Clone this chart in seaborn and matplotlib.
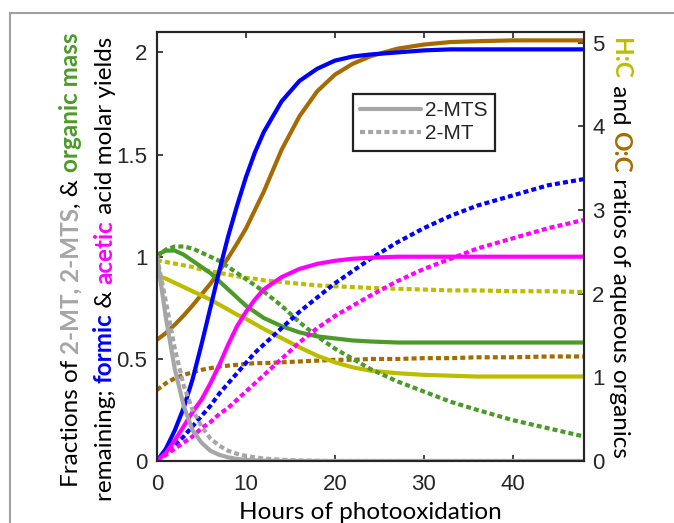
import matplotlib
matplotlib.use('Agg')
import matplotlib.pyplot as plt
import seaborn as sns
from matplotlib.lines import Line2D
from matplotlib.patches import Rectangle

# hours of photooxidation (shared time grid)
HOURS = [0, 1, 2, 3, 4, 5, 6, 7, 8, 9, 10, 11, 12, 14, 16, 18, 20, 22, 24, 27, 30, 33, 36, 40, 44, 48]

# left axis: fractions remaining / molar yields  (solid = 2-MTS, dotted = 2-MT)
MTS_FRAC = [1.0, 0.7, 0.45, 0.27, 0.15, 0.09, 0.05, 0.03, 0.018, 0.01, 0.006, 0.003, 0.002, 0.001, 0, 0, 0, 0, 0, 0, 0, 0, 0, 0, 0, 0]
MT_FRAC = [1.0, 0.78, 0.55, 0.37, 0.25, 0.17, 0.11, 0.075, 0.05, 0.035, 0.025, 0.018, 0.012, 0.006, 0.003, 0.001, 0, 0, 0, 0, 0, 0, 0, 0, 0, 0]
FORMIC_MTS = [0, 0.06, 0.15, 0.26, 0.4, 0.57, 0.75, 0.93, 1.1, 1.25, 1.39, 1.51, 1.61, 1.76, 1.86, 1.92, 1.96, 1.98, 1.99, 2.0, 2.01, 2.015, 2.015, 2.015, 2.015, 2.015]
FORMIC_MT = [0, 0.04, 0.08, 0.12, 0.17, 0.22, 0.27, 0.33, 0.38, 0.43, 0.48, 0.53, 0.57, 0.65, 0.73, 0.8, 0.87, 0.93, 0.99, 1.07, 1.14, 1.2, 1.25, 1.3, 1.35, 1.38]
ACETIC_MTS = [0, 0.04, 0.1, 0.17, 0.24, 0.3, 0.38, 0.47, 0.57, 0.66, 0.73, 0.79, 0.84, 0.9, 0.94, 0.965, 0.98, 0.99, 0.995, 1.0, 1.0, 1.0, 1.0, 1.0, 1.0, 1.0]
ACETIC_MT = [0, 0.03, 0.06, 0.09, 0.12, 0.16, 0.19, 0.23, 0.26, 0.3, 0.34, 0.38, 0.42, 0.5, 0.58, 0.65, 0.71, 0.76, 0.81, 0.88, 0.94, 0.99, 1.04, 1.09, 1.14, 1.18]
MASS_MTS = [1.01, 1.03, 1.03, 1.01, 0.98, 0.95, 0.92, 0.88, 0.84, 0.8, 0.76, 0.73, 0.7, 0.66, 0.63, 0.61, 0.6, 0.59, 0.585, 0.58, 0.58, 0.58, 0.58, 0.58, 0.58, 0.58]
MASS_MT = [1.0, 1.035, 1.05, 1.05, 1.04, 1.02, 1.0, 0.98, 0.95, 0.92, 0.89, 0.86, 0.83, 0.76, 0.68, 0.61, 0.55, 0.5, 0.45, 0.39, 0.34, 0.29, 0.25, 0.2, 0.16, 0.12]

# right axis: elemental ratios of aqueous organics
HC_MTS = [2.22, 2.18, 2.13, 2.08, 2.03, 1.98, 1.93, 1.87, 1.81, 1.75, 1.7, 1.64, 1.58, 1.47, 1.36, 1.26, 1.18, 1.12, 1.08, 1.05, 1.03, 1.02, 1.01, 1.01, 1.01, 1.01]
HC_MT = [2.4, 2.38, 2.36, 2.34, 2.32, 2.29, 2.27, 2.25, 2.23, 2.21, 2.19, 2.18, 2.16, 2.14, 2.12, 2.1, 2.09, 2.08, 2.07, 2.06, 2.05, 2.04, 2.04, 2.03, 2.03, 2.02]
OC_MTS = [1.45, 1.53, 1.63, 1.74, 1.86, 1.99, 2.12, 2.27, 2.43, 2.6, 2.78, 3.0, 3.22, 3.72, 4.12, 4.42, 4.62, 4.75, 4.84, 4.93, 4.98, 5.01, 5.02, 5.03, 5.03, 5.03]
OC_MT = [0.85, 0.93, 0.99, 1.03, 1.06, 1.09, 1.11, 1.13, 1.14, 1.15, 1.16, 1.17, 1.17, 1.18, 1.19, 1.2, 1.21, 1.21, 1.22, 1.22, 1.23, 1.23, 1.24, 1.24, 1.25, 1.25]

GRAY = '#a6a6a6'
BLUE = '#0000ff'
MAGENTA = '#ff00ff'
GREEN = '#4c9a2a'
YELLOW = '#bdbd00'
BROWN = '#a66b00'
AXCOL = '#262626'

sns.set_theme(style='white')
plt.rcParams['font.family'] = ['Liberation Sans', 'DejaVu Sans']

W, H = 674, 523
fig = plt.figure(figsize=(W / 100, H / 100), dpi=100)
ax = fig.add_axes([157 / W, 1 - 461 / H, 427 / W, 429 / H])
ax2 = ax.twinx()
ax.set_zorder(ax2.get_zorder() + 1)
ax.patch.set_visible(False)

DOT = (0, (1.2, 0.75))
LW = 3.0

# right-axis lines (drawn underneath)
for vals, col, ls in [(OC_MTS, BROWN, '-'), (OC_MT, BROWN, DOT),
                      (HC_MTS, YELLOW, '-'), (HC_MT, YELLOW, DOT)]:
    sns.lineplot(x=HOURS, y=vals, ax=ax2, color=col, linestyle=ls, lw=LW)

# left-axis lines
for vals, col, ls in [(MASS_MT, GREEN, DOT), (MASS_MTS, GREEN, '-'),
                      (FORMIC_MT, BLUE, DOT), (ACETIC_MT, MAGENTA, DOT),
                      (FORMIC_MTS, BLUE, '-'), (ACETIC_MTS, MAGENTA, '-'),
                      (MT_FRAC, GRAY, DOT), (MTS_FRAC, GRAY, '-')]:
    sns.lineplot(x=HOURS, y=vals, ax=ax, color=col, linestyle=ls, lw=LW)

ax.set_xlim(0, 48)
ax.set_ylim(0, 2.1)
ax2.set_ylim(0, 5.13)
ax.set_xticks([0, 10, 20, 30, 40])
ax.set_yticks([0, 0.5, 1, 1.5, 2])
ax.set_yticklabels(['0', '0.5', '1', '1.5', '2'])
ax2.set_yticks([0, 1, 2, 3, 4, 5])
ax.set_xlabel('')
ax.set_ylabel('')

for a in (ax, ax2):
    for sp in a.spines.values():
        sp.set_color(AXCOL)
        sp.set_linewidth(1.5)
ax.tick_params(axis='x', direction='in', top=True, bottom=True, length=4, width=1.2,
               color=AXCOL, labelsize=16, labelcolor=AXCOL, pad=9)
ax.tick_params(axis='y', direction='in', left=True, right=False, length=4, width=1.2,
               color=AXCOL, labelsize=16, labelcolor=AXCOL, pad=7)
ax2.tick_params(axis='y', direction='in', right=True, length=4, width=1.2,
                color=AXCOL, labelsize=16, labelcolor=AXCOL, pad=6)

handles = [Line2D([], [], color=GRAY, lw=LW, ls='-'),
           Line2D([], [], color=GRAY, lw=LW, ls=DOT)]
leg = ax.legend(handles, ['2-MTS', '2-MT'], loc='upper left', bbox_to_anchor=(0.459, 0.856),
                borderaxespad=0, fontsize=15, frameon=True, fancybox=False, framealpha=1,
                handlelength=2.9, handletextpad=0.2, labelspacing=0.2, borderpad=0.35)
leg.get_frame().set_edgecolor('#222222')
leg.get_frame().set_linewidth(1.6)

LABEL_FONT = ['Lato', 'DejaVu Sans']
LABEL_SIZE = 17.5
renderer = fig.canvas.get_renderer()


def piece_len(s, weight):
    t = fig.text(0, 0, s + '|', fontsize=LABEL_SIZE, family=LABEL_FONT, fontweight=weight)
    w = t.get_window_extent(renderer).width
    t.set_text('|')
    w -= t.get_window_extent(renderer).width
    t.remove()
    return w


def colored_line(pieces, xb, yc, rot):
    # xb: baseline x in pixels, yc: centre of the line in pixels from top
    lens = [piece_len(s, wt) for s, c, wt in pieces]
    total = sum(lens)
    if rot == 90:
        y = (H - yc) - total / 2
        step = 1
    else:
        y = (H - yc) + total / 2
        step = -1
    for (s, c, wt), l in zip(pieces, lens):
        fig.text(xb / W, y / H, s, color=c, fontsize=LABEL_SIZE, family=LABEL_FONT,
                 fontweight=wt, rotation=rot, rotation_mode='anchor',
                 ha='left', va='baseline')
        y += step * l


colored_line([('Fractions of ', 'black', 'normal'), ('2-MT, 2-MTS', GRAY, 'bold'),
              (', & ', 'black', 'normal'), ('organic mass', GREEN, 'bold')],
             78, 260, 90)
colored_line([('remaining; ', 'black', 'normal'), ('formic', BLUE, 'bold'),
              (' & ', 'black', 'normal'), ('acetic', MAGENTA, 'bold'),
              (' acid molar yields', 'black', 'normal')],
             112, 269, 90)
colored_line([('H:C', YELLOW, 'bold'), (' and ', 'black', 'normal'),
              ('O:C', BROWN, 'bold'), (' ratios of aqueous organics', 'black', 'normal')],
             613, 248, -90)

fig.text(370 / W, 1 - 519 / H, 'Hours of photooxidation', ha='center', va='baseline',
         fontsize=LABEL_SIZE, family=LABEL_FONT, color='black')

# thin grey frame around the panel
fig.patches.append(Rectangle((10 / W, -0.2), 1.2, (H - 13) / H + 0.2, transform=fig.transFigure,
                             fill=False, edgecolor='#a0a0a0', lw=1.5))

fig.savefig('out.png', dpi=100)
